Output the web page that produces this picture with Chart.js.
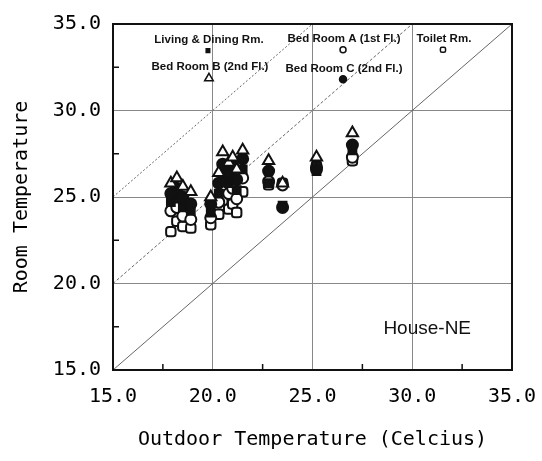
<!DOCTYPE html>
<html>
<head>
  <title>House-NE room temperature</title>
  <script src="https://cdn.jsdelivr.net/npm/chart.js"></script>
  <style>
    body { margin: 0; background: #fff; }
  </style>
</head>
<body>
  <canvas id="chart" width="542" height="461"></canvas>
  <script>
    // outdoor temperature of each measured day (x)
    const outdoorTemp  = [17.9, 18.2, 18.5, 18.9, 19.9, 20.3, 20.5, 20.8, 21.0, 21.2, 21.5, 22.8, 23.5, 25.2, 27.0];
    // room temperatures for the same days (y)
    const bedRoomB     = [25.8, 26.1, 25.6, 25.3, 25.0, 26.4, 27.6, 27.0, 27.3, 26.6, 27.7, 27.1, 25.8, 27.3, 28.7];
    const bedRoomC     = [25.2, 25.5, 25.0, 24.6, 24.6, 25.8, 26.9, 26.4, 26.8, 26.0, 27.2, 26.5, 24.4, 26.6, 28.0];
    const livingDining = [24.7, 24.9, 24.4, 24.2, 24.1, 25.2, 26.3, 25.8, 26.1, 25.4, 26.6, 25.8, 24.5, 26.5, 27.7];
    const bedRoomA     = [24.2, 24.4, 23.9, 23.7, 23.8, 24.7, 25.7, 25.2, 25.5, 24.9, 26.1, 25.9, 25.7, 26.7, 27.3];
    const toiletRm     = [23.0, 23.6, 23.3, 23.2, 23.4, 24.0, 24.8, 24.3, 24.6, 24.1, 25.3, 25.7, 25.8, 26.8, 27.1];

    const axisMin = 15, axisMax = 35, axisStep = 5;
    const gridValues = [20, 25, 30];
    const minorTicks = [17.5, 22.5, 27.5, 32.5];
    const refOffsets = [0, 5, 10];   // room = outdoor + offset

    const toPoints = ys => outdoorTemp.map((x, i) => ({ x: x, y: ys[i] }));

    const rooms = [
      { label: 'Bed Room B (2nd Fl.)', values: bedRoomB, style: 'triangle', r: 6.5, fill: '#fff', keyR: 5, key: [19.81, 31.86] },
      { label: 'Bed Room C (2nd Fl.)', values: bedRoomC, style: 'circle', r: 5.5, fill: '#111', keyR: 3.5, key: [26.53, 31.8] },
      { label: 'Living & Dining Rm.', values: livingDining, style: 'rect', r: 5.5, fill: '#111', keyR: 2.5, key: [19.76, 33.46] },
      { label: 'Bed Room A (1st Fl.)', values: bedRoomA, style: 'circle', r: 5.5, fill: '#fff', keyR: 3, key: [26.53, 33.51] },
      { label: 'Toilet Rm.', values: toiletRm, style: 'rectRounded', r: 5.5, fill: '#fff', keyR: 3, key: [31.54, 33.51] }
    ];

    const datasets = rooms.map((rm, i) => ({
      type: 'scatter',
      label: rm.label,
      data: toPoints(rm.values),
      pointStyle: rm.style,
      pointRadius: rm.r,
      backgroundColor: rm.fill,
      borderColor: '#111',
      pointBorderWidth: 2,
      order: i + 1
    }));

    const refDash = [[], [3, 2], [2, 2]];
    refOffsets.forEach((off, i) => {
      datasets.push({
        type: 'line',
        label: 'y = x + ' + off,
        data: [{ x: axisMin, y: axisMin + off }, { x: axisMax - off, y: axisMax }],
        borderColor: '#666',
        borderWidth: 1,
        borderDash: refDash[i],
        pointRadius: 0,
        fill: false,
        order: 10 + i
      });
    });

    const gridColor = ctx => gridValues.includes(ctx.tick.value) ? '#888' : 'rgba(0,0,0,0)';
    const tickFont = { family: 'DejaVu Sans Mono', size: 20 };
    // tall line box pushes the x labels down without widening the side padding
    const xTickFont = { family: 'DejaVu Sans Mono', size: 20, lineHeight: 2.3 };

    // frame, inward minor ticks, key labels and house name
    const decorations = {
      id: 'decorations',
      afterDatasetsDraw(chart) {
        const { ctx, chartArea: a, scales: { x, y } } = chart;
        ctx.save();
        ctx.strokeStyle = '#111';
        ctx.lineWidth = 2;
        ctx.strokeRect(a.left, a.top, a.right - a.left, a.bottom - a.top);

        ctx.lineWidth = 1.5;
        minorTicks.forEach(v => {
          const px = x.getPixelForValue(v), py = y.getPixelForValue(v);
          ctx.beginPath();
          ctx.moveTo(px, a.bottom); ctx.lineTo(px, a.bottom - 6);
          ctx.moveTo(a.left, py); ctx.lineTo(a.left + 6, py);
          ctx.stroke();
        });

        ctx.font = 'bold 11.5px "Liberation Sans", Arial, sans-serif';
        ctx.fillStyle = '#111';
        ctx.textAlign = 'center';
        ctx.textBaseline = 'middle';
        rooms.forEach(rm => {
          const px = x.getPixelForValue(rm.key[0]);
          const py = y.getPixelForValue(rm.key[1]);
          ctx.fillText(rm.label, px + 1, py - 11);
          ctx.fillStyle = rm.fill;
          ctx.strokeStyle = '#111';
          ctx.lineWidth = 1.5;
          Chart.helpers.drawPoint(ctx, { pointStyle: rm.style, radius: rm.keyR, rotation: 0, borderWidth: 1.5 }, px, py);
          ctx.fillStyle = '#111';
        });

        ctx.font = '19px "Liberation Sans", Arial, sans-serif';
        ctx.fillText('House-NE', x.getPixelForValue(30.75), y.getPixelForValue(17.4));
        ctx.restore();
      }
    };

    new Chart(document.getElementById('chart'), {
      data: { datasets: datasets },
      options: {
        responsive: false,
        animation: false,
        layout: { padding: { top: 20, right: 30, left: 0, bottom: 0 } },
        plugins: { legend: { display: false }, tooltip: { enabled: false } },
        scales: {
          x: {
            type: 'linear',
            min: axisMin, max: axisMax,
            afterFit: s => { s.height = 91; },
            ticks: { stepSize: axisStep, callback: v => v.toFixed(1), font: xTickFont, color: '#000', padding: 4, maxRotation: 0 },
            grid: { color: gridColor, drawTicks: false, lineWidth: 1 },
            border: { display: false },
            title: { display: true, text: 'Outdoor Temperature (Celcius)', font: tickFont, color: '#000', padding: { top: 0, bottom: 9 } }
          },
          y: {
            type: 'linear',
            min: axisMin, max: axisMax,
            afterFit: s => { s.width = 113; },
            ticks: { stepSize: axisStep, callback: v => v.toFixed(1), font: tickFont, color: '#000', padding: 12 },
            grid: { color: gridColor, drawTicks: false, lineWidth: 1 },
            border: { display: false },
            title: { display: true, text: 'Room Temperature', font: tickFont, color: '#000', padding: { top: 10, bottom: 0 } }
          }
        }
      },
      plugins: [decorations]
    });
  </script>
</body>
</html>
